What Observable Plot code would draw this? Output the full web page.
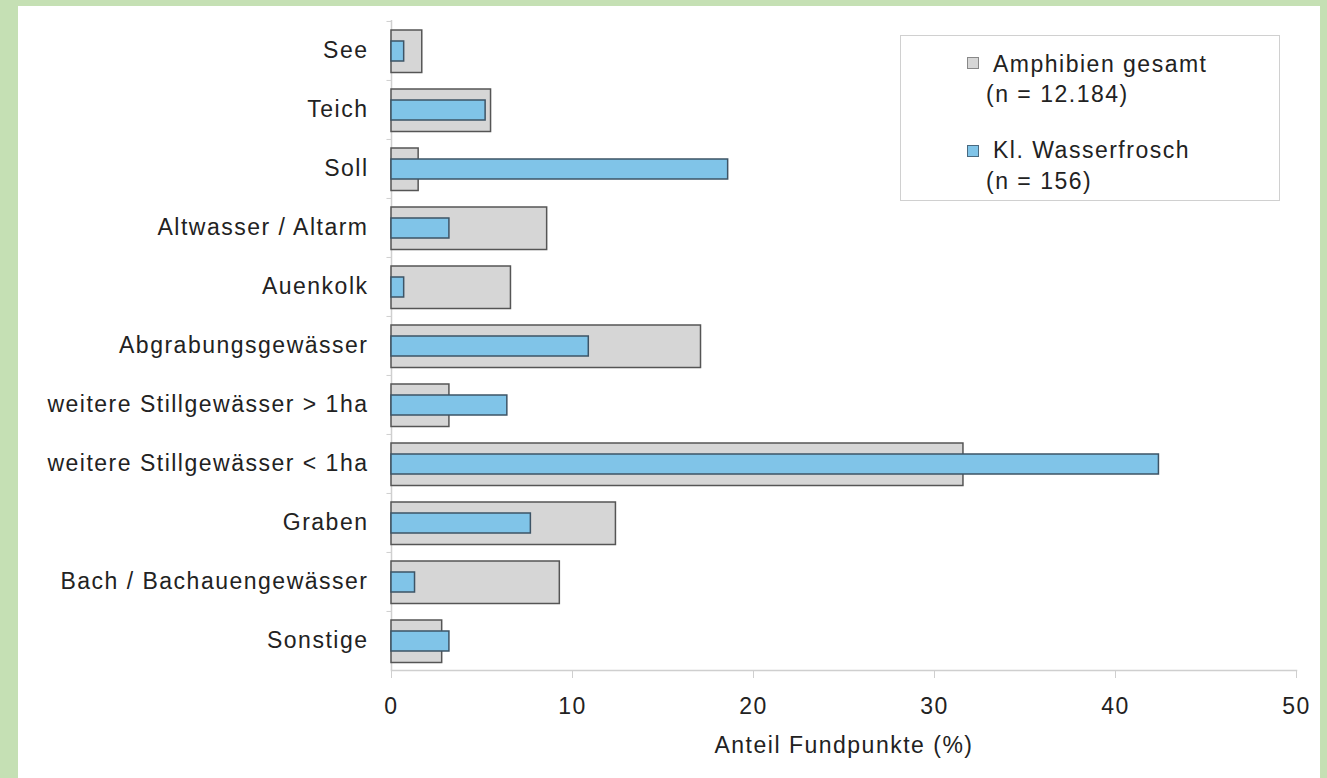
<!DOCTYPE html>
<html>
<head>
<meta charset="utf-8">
<script src="https://cdn.jsdelivr.net/npm/d3@7"></script>
<script src="https://cdn.jsdelivr.net/npm/@observablehq/plot@0.6"></script>
<style>
  html, body { margin: 0; padding: 0; }
  body { background: #c5e0b4; width: 1327px; height: 778px; position: relative; overflow: hidden;
         font-family: "Liberation Sans", Arial, sans-serif; color: #222; }
  #panel { position: absolute; left: 18px; top: 6px; width: 1302px; height: 772px; background: #fff; }
  #chart { position: absolute; left: 0; top: 0; }
  #chart svg text { letter-spacing: 1.5px; }
  .legend { position: absolute; left: 900px; top: 35px; width: 380px; height: 166px;
            border: 1.5px solid #d0d0d0; background: #fff; box-sizing: border-box; }
  .lt { position: absolute; font-size: 23px; letter-spacing: 1.5px; white-space: nowrap; line-height: 1; color: #222; }
  .sw { position: absolute; width: 12px; height: 12px; box-sizing: border-box; }
</style>
</head>
<body>
<div id="panel"></div>
<div id="chart"></div>
<div class="legend"></div>
<div class="sw" style="left:967px;top:57px;background:#d6d6d6;border:1.5px solid #888;"></div>
<div class="lt" style="left:993px;top:53px;">Amphibien gesamt</div>
<div class="lt" style="left:986px;top:83px;">(n = 12.184)</div>
<div class="sw" style="left:967px;top:145px;background:#80c4e8;border:1.5px solid #4a6a80;"></div>
<div class="lt" style="left:993px;top:139px;">Kl. Wasserfrosch</div>
<div class="lt" style="left:986px;top:170px;">(n = 156)</div>
<script>
const categories = ["See", "Teich", "Soll", "Altwasser / Altarm", "Auenkolk", "Abgrabungsgewässer",
  "weitere Stillgewässer > 1ha", "weitere Stillgewässer < 1ha", "Graben", "Bach / Bachauengewässer", "Sonstige"];
const gesamt = [1.7, 5.5, 1.5, 8.6, 6.6, 17.1, 3.2, 31.6, 12.4, 9.3, 2.8];
const wasserfrosch = [0.7, 5.2, 18.6, 3.2, 0.7, 10.9, 6.4, 42.4, 7.7, 1.3, 3.2];
const xTicks = [0, 10, 20, 30, 40, 50];

const data = categories.map((c, i) => ({cat: c, gesamt: gesamt[i], frosch: wasserfrosch[i]}));

const W = 1327, H = 778, mT = 20, mB = 108, mL = 391, mR = 31;
const step = (H - mT - mB) / categories.length;

const chart = Plot.plot({
  width: W, height: H,
  marginTop: mT, marginBottom: mB, marginLeft: mL, marginRight: mR,
  style: {fontFamily: "'Liberation Sans', Arial, sans-serif", fontSize: "23px", color: "#222", background: "transparent"},
  x: {domain: [0, 50], ticks: xTicks, label: null},
  y: {type: "band", domain: categories, padding: 0, label: null},
  marks: [
    Plot.ruleX([0], {stroke: "#cfcfcf", strokeWidth: 1.5}),
    Plot.frame({anchor: "bottom", stroke: "#cfcfcf", strokeWidth: 1.5}),
    Plot.ruleY(categories, {y: d => d, x1: -0.25, x2: 0, dy: -step / 2, stroke: "#cfcfcf"}),
    Plot.barX(data, {y: "cat", x: "gesamt", fill: "#d6d6d6", stroke: "#555", strokeWidth: 1.5, insetTop: 9, insetBottom: 7.5}),
    Plot.barX(data, {y: "cat", x: "frosch", fill: "#80c4e8", stroke: "#3d5466", strokeWidth: 1.5, insetTop: 20, insetBottom: 19}),
    Plot.axisX({ticks: xTicks, tickSize: 8, tickPadding: 19, stroke: "#cfcfcf", label: null, fill: "#222"}),
    Plot.axisY({tickSize: 0, tickPadding: 23, label: null, fill: "#222"}),
    Plot.text(["Anteil Fundpunkte (%)"], {frameAnchor: "bottom", dy: 82, fill: "#222", fontSize: 23})
  ]
});
document.getElementById("chart").appendChild(chart);
</script>
</body>
</html>
